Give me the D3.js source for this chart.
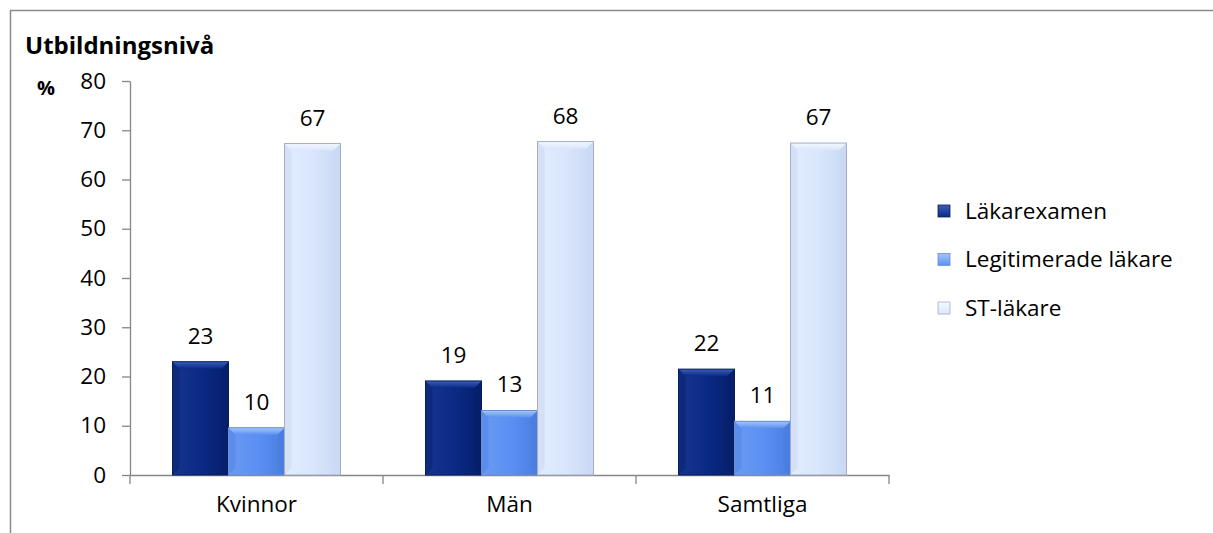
<!DOCTYPE html>
<html><head><meta charset="utf-8">
<script src="https://cdn.jsdelivr.net/npm/d3@7"></script>
<style>body{margin:0;background:#fff}svg{display:block}text{font-family:"Open Sans",sans-serif;fill:#000}</style>
</head><body>
<script>
const categories = ["Kvinnor", "Män", "Samtliga"];
const seriesNames = ["Läkarexamen", "Legitimerade läkare", "ST-läkare"];
const lakarexamen = [23.0, 19.1, 21.5];
const legitimerade = [9.6, 13.1, 10.9];
const stLakare = [67.3, 67.7, 67.4];
const labels = [["23","10","67"],["19","13","68"],["22","11","67"]];
const yTicks = [0,10,20,30,40,50,60,70,80];

const FS=22.5, FF='"Open Sans",sans-serif';
const W=1213,H=533;
const svg=d3.select("body").append("svg").attr("width",W).attr("height",H);
const defs=svg.append("defs");
const cols=[
  {base:"#0a2a85",light:"#16358f",dark:"#061f6a",top:"#3b5fb8",side:"#082472",edge:"#0a1f5a"},
  {base:"#5c90f2",light:"#6a9af4",dark:"#4a7ee0",top:"#a4c6fc",side:"#5386e8",edge:"#6a8fcc"},
  {base:"#d9e6fc",light:"#e2ecff",dark:"#c9d8f4",top:"#f4f8ff",side:"#cbd9f4",edge:"#a5adc4"}
];
cols.forEach((c,i)=>{
  const g=defs.append("linearGradient").attr("id","g"+i).attr("x1",0).attr("x2",1).attr("y1",0).attr("y2",0);
  g.append("stop").attr("offset","0%").attr("stop-color",c.light);
  g.append("stop").attr("offset","50%").attr("stop-color",c.base);
  g.append("stop").attr("offset","100%").attr("stop-color",c.dark);
  const t=defs.append("linearGradient").attr("id","t"+i).attr("x1",0).attr("x2",0).attr("y1",0).attr("y2",1);
  t.append("stop").attr("offset","0%").attr("stop-color",c.top);
  t.append("stop").attr("offset","100%").attr("stop-color",c.base);
});

svg.append("rect").attr("x",10.5).attr("y",10.5).attr("width",1300).attr("height",600)
  .attr("fill","none").attr("stroke","#8a8a8a").attr("stroke-width",1.5);

const x0=d3.scaleBand().domain(categories).range([130,889]).paddingInner(0).paddingOuter(0);
const groupW=168;
const x1=d3.scaleBand().domain(seriesNames).range([0,groupW]).padding(0);
const y=d3.scaleLinear().domain([0,80]).range([475,81]);

const yAxis=d3.axisLeft(y).tickValues(yTicks).tickSize(8).tickSizeOuter(0);
const ya=svg.append("g").attr("transform","translate(130,0)").call(yAxis);
ya.select(".domain").attr("stroke","#868686").attr("stroke-width",1.3);
ya.selectAll(".tick line").attr("stroke","#868686").attr("stroke-width",1.3);
ya.selectAll(".tick text").attr("x",-24).style("font-size",FS+"px").style("font-family",FF).attr("fill","#000");

const xa=svg.append("g").attr("transform","translate(0,475)")
  .call(d3.axisBottom(x0).tickSize(0).tickSizeOuter(0));
xa.select(".domain").attr("stroke","#868686").attr("stroke-width",1.3);
xa.selectAll(".tick text").attr("y",21).style("font-size",FS+"px").style("font-family",FF).attr("fill","#000");
const bounds=[130].concat(categories.map(c=>x0(c)+x0.bandwidth()));
svg.append("g").selectAll("line").data(bounds).join("line")
  .attr("x1",d=>d).attr("x2",d=>d).attr("y1",475).attr("y2",484)
  .attr("stroke","#868686").attr("stroke-width",1.3);

const series=[lakarexamen,legitimerade,stLakare];
const data=[];
categories.forEach((c,ci)=>series.forEach((s,si)=>data.push({c,ci,si,v:s[ci],label:labels[ci][si]})));

const bw=x1.bandwidth(), bv=7;
const bars=svg.append("g").selectAll("g").data(data).join("g")
  .attr("transform",d=>`translate(${x0(d.c)+(x0.bandwidth()-groupW)/2+x1(seriesNames[d.si])},0)`);
bars.append("rect").attr("x",0).attr("y",d=>y(d.v)).attr("width",bw).attr("height",d=>y(0)-y(d.v))
  .attr("fill",d=>`url(#g${d.si})`);
// side bevels
bars.append("path").attr("d",d=>{const t=y(d.v),b=y(0);return `M0,${t}L${bv},${t+bv}L${bv},${b-bv}L0,${b}Z`;})
  .attr("fill",d=>cols[d.si].side).attr("opacity",0.6);
bars.append("path").attr("d",d=>{const t=y(d.v),b=y(0);return `M${bw},${t}L${bw-bv},${t+bv}L${bw-bv},${b-bv}L${bw},${b}Z`;})
  .attr("fill",d=>cols[d.si].dark).attr("opacity",0.6);
// top bevel
bars.append("path").attr("d",d=>{const t=y(d.v);return `M0,${t}L${bw},${t}L${bw-bv},${t+bv}L${bv},${t+bv}Z`;})
  .attr("fill",d=>`url(#t${d.si})`);
bars.append("rect").attr("x",0).attr("y",d=>y(d.v)).attr("width",bw).attr("height",d=>y(0)-y(d.v))
  .attr("fill","none").attr("stroke",d=>cols[d.si].edge).attr("stroke-width",1);
bars.append("text").attr("x",bw/2).attr("y",d=>y(d.v)-18).attr("text-anchor","middle")
  .style("font-size",FS+"px").text(d=>d.label);

svg.append("text").attr("x",25).attr("y",54).style("font-size","24px").style("font-weight","bold").text("Utbildningsnivå");
svg.append("text").attr("x",37).attr("y",95).style("font-size","20px").style("font-weight","bold").text("%");

const lg=svg.append("g").selectAll("g").data(seriesNames).join("g")
  .attr("transform",(d,i)=>`translate(938,${211+i*48.5})`);
lg.append("rect").attr("x",0).attr("y",-6).attr("width",12).attr("height",12)
  .attr("fill",(d,i)=>`url(#t${i})`).attr("stroke",(d,i)=>cols[i].edge).attr("stroke-width",0.8);
lg.append("text").attr("x",27).attr("y",0).attr("dy","0.35em").style("font-size",FS+"px").text(d=>d);
</script>
</body></html>
